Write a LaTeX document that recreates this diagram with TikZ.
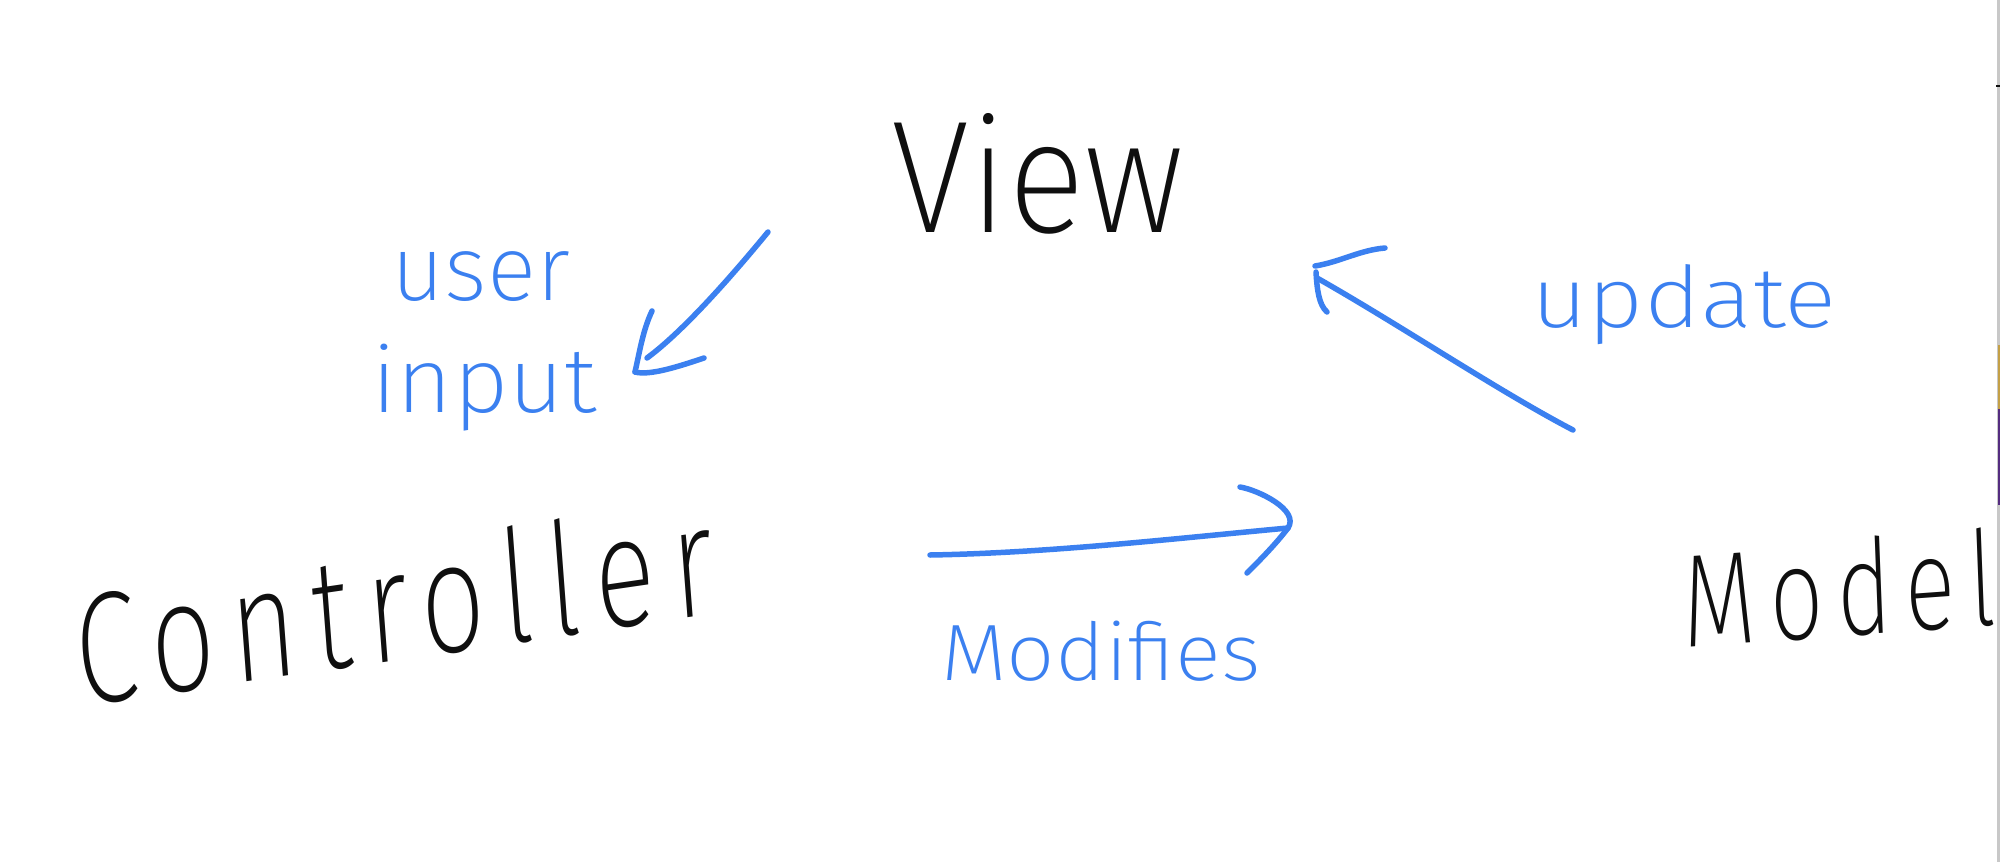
\documentclass[tikz,border=0pt]{standalone}
\usepackage{fontspec}
\setmainfont{Fira Sans}[UprightFont=* ExtraLight]
\newfontfamily\spacedhand{Fira Sans}[UprightFont=* ExtraLight, LetterSpace=14]
\definecolor{ink}{RGB}{15,15,15}
\definecolor{pen}{RGB}{59,128,240}
\definecolor{edgegray}{RGB}{200,200,200}
\definecolor{edgegold}{RGB}{196,160,70}
\definecolor{edgepurple}{RGB}{84,44,128}
\begin{document}
\begin{tikzpicture}[x=1pt,y=-1pt,
  stroke/.style={draw=pen, line width=5.5pt, line cap=round, line join=round},
  word/.style={inner sep=0pt, anchor=base, text=ink},
  note/.style={inner sep=0pt, anchor=base, text=pen, align=center}]
\useasboundingbox (0,0) rectangle (2000,862);
\fill[white] (0,0) rectangle (2000,862);
% screen edge
\fill[edgegray] (1997,0) rectangle (2000,862);
\fill[edgegold] (1998,345) rectangle (2000,409);
\fill[edgepurple] (1998,409) rectangle (2000,505);
\fill[ink] (1996,85) rectangle (2000,87);

% main words
\node[word, xscale=0.9] (view) at (1038,232) {\fontsize{160}{190}\selectfont View};
\node[word, xscale=0.72, rotate=6] (ctrl) at (398,660) {\spacedhand\fontsize{158}{185}\selectfont Controller};
\node[word, xscale=0.72, rotate=3] (model) at (1841,636) {\spacedhand\fontsize{132}{155}\selectfont Model};

% labels
\node[note] (user) at (481,300) {\fontsize{92}{110}\selectfont user};
\node[note, xscale=1.05] (input) at (484,412) {\fontsize{92}{110}\selectfont input};
\node[note, xscale=1.07] (modif) at (1101,680) {\fontsize{80}{96}\selectfont Modifies};
\node[note, xscale=1.15] (upd) at (1684,327) {\fontsize{85}{100}\selectfont update};

% arrow: View -> Controller
\coordinate (a1s) at (768,232);
\coordinate (a1e) at (647,358);
\coordinate (a1t) at (635,372);
\draw[stroke] (a1s) .. controls (735,272) and (685,330) .. (a1e);
\draw[stroke] (652,311) .. controls (643,330) and (640,350) .. (a1t);
\draw[stroke] (a1t) .. controls (650,376) and (680,366) .. (704,358);

% arrow: Controller -> Model
\coordinate (a2s) at (930,555);
\coordinate (a2e) at (1288,528);
\draw[stroke] (a2s) .. controls (1050,553) and (1180,538) .. (a2e);
\draw[stroke] (1240,487) .. controls (1258,490) and (1300,510) .. (a2e);
\draw[stroke] (a2e) .. controls (1275,545) and (1260,560) .. (1247,573);

% arrow: Model -> View
\coordinate (a3s) at (1573,430);
\coordinate (a3e) at (1317,278);
\coordinate (a3t) at (1315,266);
\draw[stroke] (a3s) .. controls (1500,392) and (1400,325) .. (a3e);
\draw[stroke] (a3t) .. controls (1340,262) and (1360,250) .. (1385,248);
\draw[stroke] (1316,272) .. controls (1317,290) and (1319,305) .. (1327,312);
\end{tikzpicture}
\end{document}
